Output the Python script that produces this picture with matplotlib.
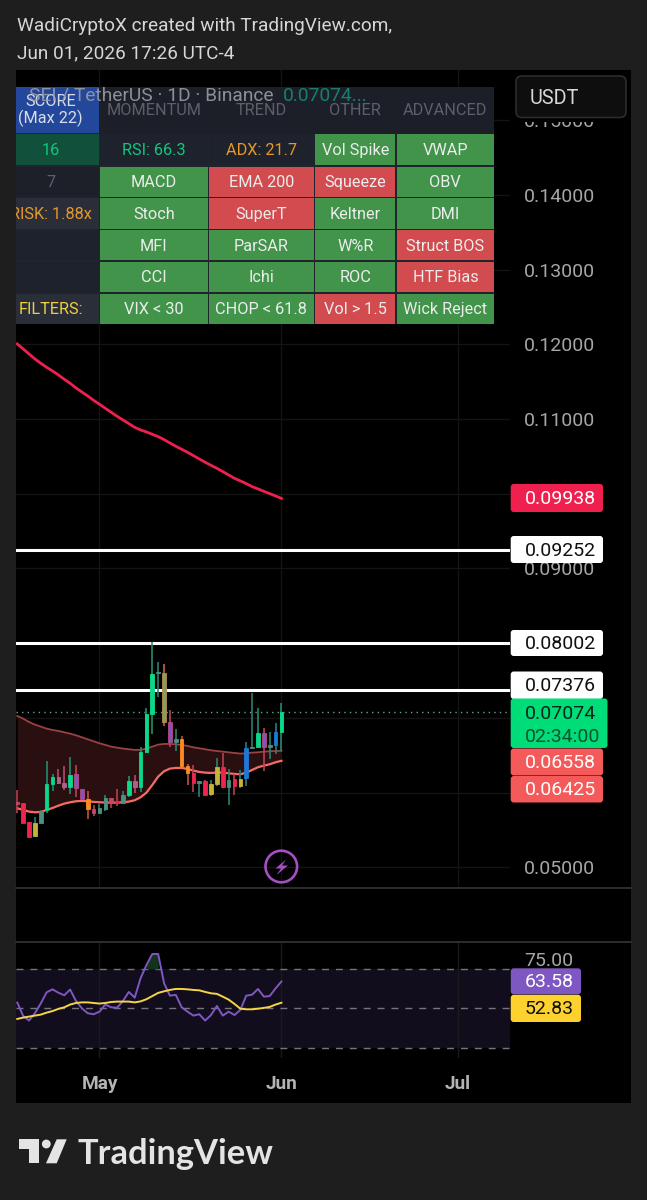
import numpy as np
import matplotlib
matplotlib.use('Agg')
import matplotlib.pyplot as plt
from matplotlib.patches import Rectangle, FancyBboxPatch, Circle, Polygon

plt.rcParams['font.family'] = ['Roboto', 'DejaVu Sans']

# days counted from May 1 (Jun 1 = 31)
days = np.arange(-14, 32)

opens = [.05879, .05857, .05607, .05419, .05589, .05767, .06116, .06205, .06133, .06080, .06245, .06053,
         .05910, .05776, .05723, .05781, .05924, .05879, .05857, .05964, .06160, .06071, .06548, .07053,
         .07597, .07597, .06950, .06682, .06713, .06356, .06258, .06133, .06156, .05977, .06116, .06348,
         .06080, .06178, .06089, .06191, .06593, .06615, .06794, .06615, .06638, .06816]
highs = [.06035, .05857, .05607, .05669, .05767, .06428, .06249, .06321, .06356, .06481, .06370, .06053,
         .06026, .05834, .05848, .05964, .05924, .06044, .06017, .06223, .06232, .06615, .07128, .08012,
         .07744, .07722, .07106, .06847, .06758, .06383, .06370, .06151, .06169, .06169, .06459, .06526,
         .06312, .06249, .06303, .06678, .07329, .07133, .06861, .06807, .06937, .07204]
lows = [.05723, .05598, .05410, .05410, .05589, .05723, .06026, .06116, .06035, .05982, .05946, .05901,
        .05643, .05687, .05714, .05759, .05790, .05821, .05848, .05946, .05991, .06013, .06535, .06785,
        .07285, .06892, .06606, .06562, .06339, .06107, .06013, .05946, .05959, .05955, .06089, .06058,
        .05830, .05973, .06062, .06089, .06589, .06606, .06294, .06455, .06517, .06562]
closes = [.05848, .05598, .05410, .05589, .05754, .06116, .06205, .06133, .06080, .06236, .06062, .05919,
          .05776, .05723, .05790, .05933, .05866, .05857, .05968, .06160, .06071, .06548, .07053, .07588,
          .07615, .06950, .06682, .06713, .06356, .06267, .06124, .06151, .05968, .06120, .06348, .06071,
          .06169, .06089, .06187, .06593, .06615, .06794, .06615, .06638, .06816, .07074]
kinds = ['pink', 'red', 'red', 'yellow', 'teal', 'green', 'green', 'mauve', 'mauve', 'green', 'purple', 'purple',
         'orange', 'pink', 'teal', 'teal', 'pink', 'red', 'teal', 'green', 'mauve', 'green', 'green', 'green',
         'teal', 'olive', 'purple', 'teal', 'orange', 'orange', 'red', 'teal', 'red', 'yellow', 'yellow', 'red',
         'teal', 'red', 'yellow', 'blue', 'teal', 'green', 'purple', 'teal', 'blue', 'green']

band_upper = [.07026, .06990, .06945, .06910, .06883, .06856, .06838, .06825, .06807, .06789, .06767, .06740,
              .06713, .06687, .06660, .06638, .06615, .06602, .06589, .06580, .06571, .06571, .06589, .06615,
              .06642, .06651, .06651, .06647, .06638, .06624, .06606, .06593, .06580, .06566, .06557, .06548,
              .06539, .06530, .06522, .06526, .06535, .06539, .06548, .06553, .06557, .06558]
band_lower = [.05790, .05767, .05745, .05736, .05741, .05767, .05794, .05825, .05852, .05870, .05884, .05888,
              .05884, .05875, .05870, .05866, .05866, .05866, .05870, .05879, .05897, .05937, .05999, .06102,
              .06214, .06285, .06321, .06330, .06330, .06316, .06294, .06276, .06267, .06263, .06267, .06267,
              .06258, .06249, .06245, .06267, .06303, .06339, .06361, .06379, .06406, .06425]
ema200 = [.12006, .11939, .11872, .11805, .11747, .11693, .11644, .11591, .11533, .11479, .11417, .11363,
          .11309, .11251, .11198, .11144, .11091, .11037, .10988, .10939, .10890, .10854, .10828, .10796,
          .10765, .10725, .10680, .10636, .10596, .10555, .10511, .10466, .10422, .10381, .10341, .10297,
          .10252, .10207, .10172, .10136, .10096, .10065, .10033, .10002, .09971, .09938]
levels = [.09252, .08002, .07376]
last_price = .07074

rsi = [52.9, 46.1, 43.8, 47.5, 52.5, 58.1, 59.6, 57.9, 56.6, 59.5, 53.7, 50.0, 47.5, 47.0, 48.3, 51.9,
       50.5, 50.3, 53.7, 58.3, 55.4, 65.2, 71.9, 77.5, 77.5, 62.7, 56.4, 56.8, 50.5, 48.3, 46.3, 47.0,
       43.8, 46.6, 51.2, 46.3, 48.3, 46.6, 49.2, 56.4, 56.9, 59.8, 55.9, 56.2, 60.1, 63.58]
rsi_ma = [44.6, 45.3, 45.8, 46.3, 46.8, 47.8, 48.6, 49.7, 50.5, 51.9, 52.7, 53.0, 53.0, 52.7, 52.4, 52.7,
          53.2, 53.4, 53.4, 53.4, 53.0, 53.5, 54.6, 56.2, 57.8, 58.6, 59.3, 59.8, 59.8, 59.6, 59.3, 59.1,
          58.3, 57.6, 57.3, 55.9, 54.4, 52.2, 49.8, 49.5, 49.5, 49.8, 50.2, 50.7, 51.9, 52.83]

price_ticks = [.05, .06, .07, .08, .09, .10, .11, .12, .13, .14, .15]
price_labels = ['0.05000', '', '', '', '0.09000', '', '0.11000', '0.12000', '0.13000', '0.14000', '0.15000']
month_ticks = [0, 31, 61]
month_labels = ['May', 'Jun', 'Jul']

table_head = ['MOMENTUM', 'TREND', 'OTHER', 'ADVANCED']
table_rows = [['RSI: 66.3', 'ADX: 21.7', 'Vol Spike', 'VWAP'],
              ['MACD', 'EMA 200', 'Squeeze', 'OBV'],
              ['Stoch', 'SuperT', 'Keltner', 'DMI'],
              ['MFI', 'ParSAR', 'W%R', 'Struct BOS'],
              ['CCI', 'Ichi', 'ROC', 'HTF Bias'],
              ['VIX < 30', 'CHOP < 61.8', 'Vol > 1.5', 'Wick Reject']]
table_state = [['d', 'd', 'g', 'g'],
               ['g', 'r', 'r', 'g'],
               ['g', 'r', 'g', 'g'],
               ['g', 'g', 'g', 'r'],
               ['g', 'g', 'g', 'r'],
               ['g', 'g', 'r', 'g']]
table_side = ['16', '7', 'RISK: 1.88x', '', '', 'FILTERS:']

W, H = 647, 1200
BG = '#1e1e1e'
GRID = '#141414'
TICK = '#a6a6a6'
CELL_FS = 11.7
PRICE_FS = 14
body_col = {'green': '#0ad98a', 'teal': '#4c9085', 'red': '#f0244c', 'pink': '#c04a68', 'mauve': '#a8609a',
            'purple': '#7c55c8', 'orange': '#ff8a1e', 'yellow': '#c4b23a', 'olive': '#7fa060', 'blue': '#1f78d6'}
wick_col = {'green': '#268a70', 'teal': '#2c7f6e', 'red': '#b8404f', 'pink': '#b8404f', 'mauve': '#b04a6a',
            'purple': '#b8405c', 'orange': '#c8503c', 'yellow': '#2c7f6e', 'olive': '#c8604a', 'blue': '#2c7f6e'}
edge_col = dict(body_col, purple='#b8487c', mauve='#b8608c', olive='#b88a50')

fig = plt.figure(figsize=(W / 100, H / 100), dpi=100, facecolor=BG)


def add_axes(x0, x1, y0, y1):
    return fig.add_axes([x0 / W, 1 - y1 / H, (x1 - x0) / W, (y1 - y0) / H], facecolor='black')


# black panel behind everything
panel = add_axes(16, 631, 70, 1103)
panel.set_xticks([])
panel.set_yticks([])
for s in panel.spines.values():
    s.set_visible(False)

# price pane
ax = add_axes(16, 510, 70, 887)
ax.set_xlim(-14.22, 69.93)
ax.set_ylim(.04736, .15673)
ax.set_xticks(month_ticks)
ax.set_xticklabels([])
ax.set_yticks(price_ticks)
ax.set_yticklabels(price_labels)
ax.yaxis.tick_right()
ax.tick_params(axis='both', length=0, pad=10, labelsize=PRICE_FS, labelcolor=TICK)
ax.grid(True, color=GRID, lw=1)
ax.set_axisbelow(True)
for s in ax.spines.values():
    s.set_visible(False)

ax.fill_between(days, band_lower, band_upper, color='#2a0f10', lw=0, zorder=1)
ax.plot(days, band_upper, color='#9a4242', lw=1.3, zorder=2)
ax.plot(days, band_lower, color='#f56c62', lw=1.6, zorder=2)
ax.plot(days, ema200, color='#f0204e', lw=2.0, zorder=3)
for lv in levels:
    ax.axhline(lv, color='white', lw=2.2, zorder=2)
ax.axhline(last_price, color='#5fa890', lw=1, ls=(0, (1, 3)), zorder=2)

# candles
for d, o, h, l, c, k in zip(days, opens, highs, lows, closes, kinds):
    ax.vlines(d, l, h, color=wick_col[k], lw=1.2, zorder=4)
    ax.bar(d, max(abs(c - o), .0002), bottom=min(o, c), width=0.62, color=body_col[k],
           edgecolor=edge_col[k], lw=0.6, zorder=5)

# RSI pane
rx = add_axes(16, 510, 942, 1058)
rx.set_xlim(-14.22, 69.93)
rx.set_ylim(24.84, 83.57)
rx.set_yticks([75])
rx.set_yticklabels(['75.00'])
rx.yaxis.tick_right()
rx.set_xticks(month_ticks)
rx.set_xticklabels(month_labels, fontweight='bold')
rx.tick_params(axis='y', length=0, pad=10, labelsize=PRICE_FS, labelcolor=TICK)
rx.tick_params(axis='x', length=0, pad=12, labelsize=13.7, labelcolor='#b4b4b4')
rx.grid(True, axis='x', color='#1a1a1a', lw=1)
rx.set_axisbelow(True)
for s in rx.spines.values():
    s.set_visible(False)
rx.axhspan(30, 70, color='#120d1c', lw=0, zorder=0)
for lv in [70, 50, 30]:
    rx.axhline(lv, color='#77757c', lw=1, ls=(0, (5, 5)), zorder=1)
rsi_arr = np.array(rsi)
rx.fill_between(days, 70, rsi_arr, where=rsi_arr > 70, color='#12331c', lw=0, zorder=1)
rx.plot(days, rsi, color='#7e57c2', lw=1.4, zorder=3)
rx.plot(days, rsi_ma, color='#f5d547', lw=1.4, zorder=4)

# overlay in pixel coordinates for table, tags and page text
ov = fig.add_axes([0, 0, 1, 1], facecolor='none')
ov.set_xlim(0, W)
ov.set_ylim(H, 0)
ov.axis('off')

ov.plot([16, 631], [887.5, 887.5], color='#2e2e2e', lw=1.4)
ov.plot([16, 631], [941.5, 941.5], color='#2e2e2e', lw=1.4)

# hides the top tick label behind the currency box
ov.add_patch(Rectangle((510, 70), 121, 51.5, color='black', lw=0))
ov.add_patch(FancyBboxPatch((516, 76), 110, 41.5, boxstyle='round,pad=0,rounding_size=6',
                            fc='#0e0e0e', ec='#2c2c2c', lw=1.2))
ov.text(530, 98, 'USDT', color='#d8d8d8', fontsize=14.3, va='center')

# page text
ov.text(17, 26, 'WadiCryptoX created with TradingView.com,', color='#d6d6d6', fontsize=13.7, va='center')
ov.text(17, 53, 'Jun 01, 2026 17:26 UTC-4', color='#d6d6d6', fontsize=13.7, va='center')

# signal table
col_x = [(16, 99), (100, 207.7), (209.3, 313.5), (315.3, 395.3), (397, 493.7)]
row_y = [(86.7, 133.3), (134.3, 165), (166.7, 196.7), (198.3, 228.7), (230.3, 260.3), (261.7, 292.3), (293.7, 324)]
state_col = {'g': '#42944a', 'r': '#d24b4f', 'd': '#1e222d'}

ov.add_patch(Rectangle((16, 86.7), 477.7, 237.3, color='#20242c', lw=0))
ov.add_patch(Rectangle((99, 86.7), 394.7, 47, color='#1c1f27', lw=0))
side_fill = ['#23479a', '#11503a', '#1e2029', '#2a2e39', '#1e222d', '#1e222d', '#2a2e39']
side_text = ['#d8dcec', '#12c67e', '#5d606b', '#e6982a', '#d1d4dc', '#d1d4dc', '#f0d040']
for i, (y0, y1) in enumerate(row_y):
    ov.add_patch(Rectangle((16, y0), 83, y1 - y0, color=side_fill[i], lw=0))
ov.text(50.5, 110.5, 'SCORE\n(Max 22)', color=side_text[0], fontsize=CELL_FS, ha='center', va='center', linespacing=1.0)
for i, t in enumerate(table_side):
    y0, y1 = row_y[i + 1]
    tx = ov.text(50.5, (y0 + y1) / 2 + 1, t, color=side_text[i + 1],
                 fontsize=CELL_FS, ha='center', va='center')
    tx.set_clip_on(True)
    tx.set_clip_path(Rectangle((16, y0), 83, y1 - y0, transform=ov.transData))

for j, t in enumerate(table_head):
    x0, x1 = col_x[j + 1]
    ov.text((x0 + x1) / 2, 110.5, t, color='#5d606b', fontsize=CELL_FS, ha='center', va='center')
for i, row in enumerate(table_rows):
    y0, y1 = row_y[i + 1]
    for j, t in enumerate(row):
        x0, x1 = col_x[j + 1]
        st = table_state[i][j]
        ov.add_patch(Rectangle((x0, y0), x1 - x0, y1 - y0, color=state_col[st], lw=0))
        col = '#ececec'
        if t.startswith('RSI'):
            col = '#12c67e'
        if t.startswith('ADX'):
            col = '#e6982a'
        ov.text((x0 + x1) / 2, (y0 + y1) / 2 + 1, t, color=col, fontsize=CELL_FS, ha='center', va='center')

# chart legend, drawn over the table as in the screenshot
leg = ov.text(29, 96, 'SEI / TetherUS · 1D · Binance', color='#9a9ca3', fontsize=13.8, va='center', alpha=0.9)
ov.text(283, 96, '0.07074...', color='#15806e', fontsize=13.8, va='center')

# price tags
tags = [('0.09938', 484, 512, '#f0204e', 'white', 603),
        ('0.09252', 536, 563, 'white', '#101010', 603),
        ('0.08002', 630, 656, 'white', '#101010', 603),
        ('0.07376', 671.5, 699, 'white', '#101010', 603),
        ('0.06558', 748.5, 775.5, '#f55a5a', 'white', 603),
        ('0.06425', 776, 802.5, '#f55a5a', 'white', 603),
        ('63.58', 968.3, 994.3, '#7e57c2', 'white', 581),
        ('52.83', 994.8, 1022, '#fdd12e', '#101010', 581)]
for txt, y0, y1, fc, tc, x1 in tags:
    ov.add_patch(FancyBboxPatch((510.7, y0), x1 - 510.7, y1 - y0, boxstyle='round,pad=0,rounding_size=3',
                                fc=fc, ec='none'))
    ov.text(524.7, (y0 + y1) / 2 + 1, txt, color=tc, fontsize=PRICE_FS, va='center')
ov.add_patch(FancyBboxPatch((510.7, 698.5), 96.8, 49.5, boxstyle='round,pad=0,rounding_size=3',
                            fc='#00dc78', ec='none'))
ov.text(524.7, 714, '0.07074', color='#04261a', fontsize=PRICE_FS, va='center')
ov.text(524.7, 737, '02:34:00', color='#04542f', fontsize=PRICE_FS, va='center')

# lightning mark
ov.add_patch(Circle((281.3, 866.5), 15.8, fc='none', ec='#a64fc4', lw=1.9))
ov.add_patch(Polygon([(286, 859.5), (275.5, 868.5), (281, 868.5), (276.5, 875), (288, 865.5), (282, 865.5)],
                     closed=True, fc='#a64fc4', ec='none'))

# TradingView logo
logo = '#e4e4e4'
ov.add_patch(Polygon([(19, 1139.3), (39.3, 1139.3), (39.3, 1163.3), (29, 1163.3), (29, 1149.3), (19, 1149.3)],
                     closed=True, fc=logo, ec='none'))
ov.add_patch(Circle((46.3, 1144), 4.4, fc=logo, ec='none'))
ov.add_patch(Polygon([(56.7, 1139.3), (66.7, 1139.3), (56.7, 1163.3), (46, 1163.3)], closed=True, fc=logo, ec='none'))
ov.text(77, 1163.5, 'TradingView', color=logo, fontsize=24.8, fontweight='bold', family='Lato', va='baseline')

fig.savefig('out.png', dpi=100, facecolor=BG)
